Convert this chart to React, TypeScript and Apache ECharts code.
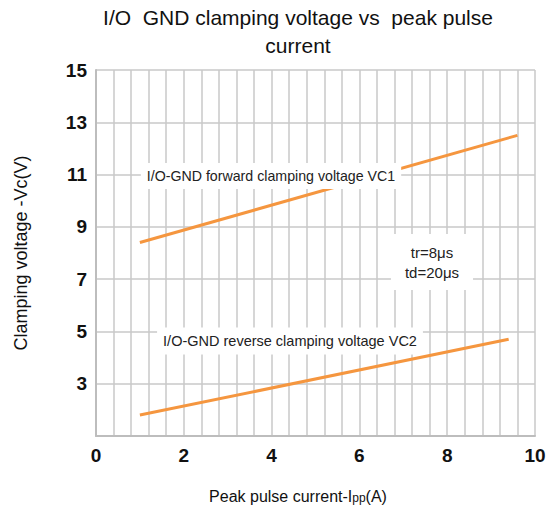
import React, { useEffect, useRef } from "react";
import * as echarts from "echarts";

const forwardX = [1, 9.6];
const forwardY = [8.4, 12.5];
const reverseX = [1, 9.4];
const reverseY = [1.8, 4.7];
const titleText = "I/O  GND clamping voltage vs  peak pulse\ncurrent";
const yAxisName = "Clamping voltage -Vc(V)";
const forwardLabel = "I/O-GND forward clamping voltage VC1";
const reverseLabel = "I/O-GND reverse clamping voltage VC2";
const pulseLabel = "tr=8\u03bcs\ntd=20\u03bcs";

const FONT = "'Liberation Sans', Arial, sans-serif";
const ORANGE = "#f5963f";
const GRID = "#c9c9c9";

export default function App() {
  const ref = useRef<HTMLDivElement>(null);
  useEffect(() => {
    if (!ref.current) return;
    const chart = echarts.init(ref.current, null, { renderer: "svg" });
    const toPairs = (xs: number[], ys: number[]) => xs.map((x, i) => [x, ys[i]]);
    chart.setOption({
      animation: false,
      backgroundColor: "#fff",
      grid: { left: 96, right: 20, top: 70, bottom: 77, containLabel: false },
      xAxis: {
        type: "value",
        min: 0,
        max: 10,
        interval: 2,
        axisLine: { show: true, lineStyle: { color: "#bdbdbd", width: 2 } },
        axisTick: { show: false },
        minorTick: { show: false, splitNumber: 5 },
        splitLine: { show: true, lineStyle: { color: GRID, width: 1.5 } },
        minorSplitLine: { show: true, lineStyle: { color: GRID, width: 1.5 } },
        axisLabel: {
          color: "#111",
          fontWeight: "bold",
          fontSize: 19,
          fontFamily: FONT,
          margin: 10,
        },
      },
      yAxis: {
        type: "value",
        min: 1,
        max: 15,
        interval: 1,
        axisLine: { show: true, lineStyle: { color: "#bdbdbd", width: 2 } },
        axisTick: { show: false },
        splitLine: {
          show: true,
          lineStyle: { color: [GRID, "rgba(0,0,0,0)"], width: 1.5 },
        },
        axisLabel: {
          color: "#111",
          fontWeight: "bold",
          fontSize: 19,
          fontFamily: FONT,
          margin: 9,
          formatter: (v: number) =>
            Math.round(v) % 2 === 1 && v > 1.5 ? String(Math.round(v)) : "",
        },
        name: yAxisName,
        nameLocation: "middle",
        nameGap: 66,
        nameTextStyle: { color: "#111", fontSize: 18, fontFamily: FONT },
      },
      series: [
        {
          type: "line",
          data: toPairs(forwardX, forwardY),
          symbol: "none",
          lineStyle: { color: ORANGE, width: 3 },
          z: 1,
        },
        {
          type: "line",
          data: toPairs(reverseX, reverseY),
          symbol: "none",
          lineStyle: { color: ORANGE, width: 3 },
          z: 1,
        },
      ],
      graphic: [
        {
          type: "text",
          x: 298,
          y: 3,
          style: {
            text: titleText,
            align: "center",
            verticalAlign: "top",
            fontSize: 21,
            lineHeight: 28,
            fontFamily: FONT,
            fill: "#111",
          },
        },
        {
          type: "text",
          x: 298,
          y: 496,
          style: {
            text: "{a|Peak pulse current-I}{b|pp}{a|(A)}",
            rich: {
              a: { fontSize: 16, fontFamily: FONT, fill: "#111", color: "#111" },
              b: { fontSize: 12, fontFamily: FONT, fill: "#111", color: "#111", padding: [4, 0, 0, 0] },
            },
            align: "center",
            verticalAlign: "middle",
          },
        },
        {
          type: "text",
          x: 271,
          y: 176,
          z: 100,
          style: {
            text: forwardLabel,
            align: "center",
            verticalAlign: "middle",
            fontSize: 14.2,
            fontFamily: FONT,
            fill: "#222",
            backgroundColor: "#fff",
            padding: [6, 6, 6, 6],
          },
        },
        {
          type: "text",
          x: 290,
          y: 341,
          z: 100,
          style: {
            text: reverseLabel,
            align: "center",
            verticalAlign: "middle",
            fontSize: 14.5,
            fontFamily: FONT,
            fill: "#222",
            backgroundColor: "#fff",
            padding: [6, 6, 6, 6],
          },
        },
        {
          type: "text",
          x: 432,
          y: 262,
          z: 100,
          style: {
            text: pulseLabel,
            align: "center",
            verticalAlign: "middle",
            fontSize: 15,
            lineHeight: 20,
            fontFamily: FONT,
            fill: "#222",
            backgroundColor: "#fff",
            padding: [8, 14, 8, 14],
          },
        },
      ],
    });
    return () => chart.dispose();
  }, []);
  return (
    <div
      ref={ref}
      style={{ position: "fixed", left: 0, top: 0, width: 555, height: 513 }}
    />
  );
}
